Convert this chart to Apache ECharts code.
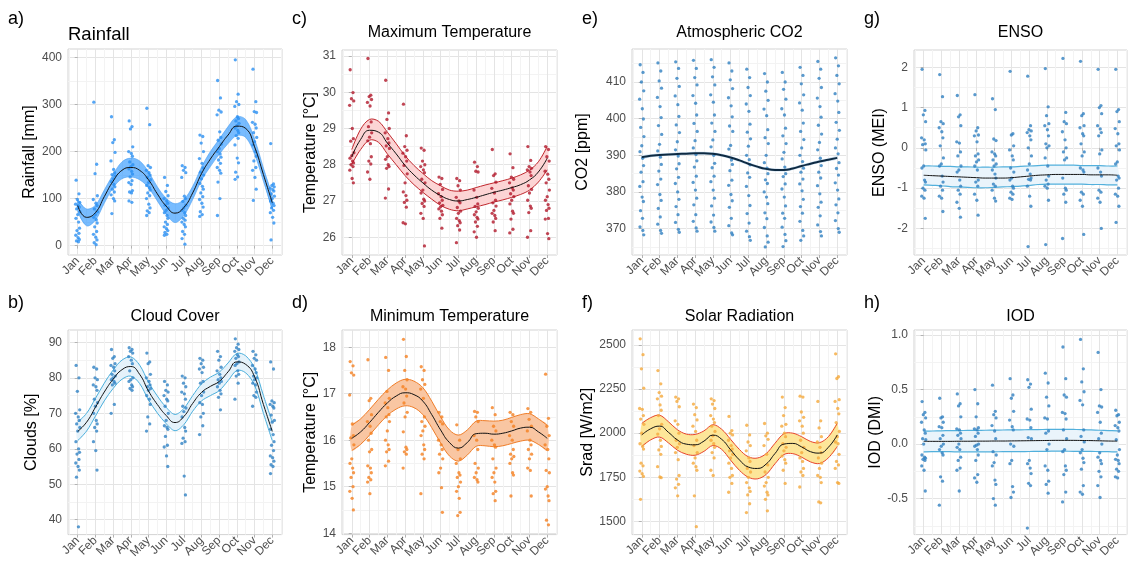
<!DOCTYPE html>
<html lang="en">
<head>
<meta charset="utf-8">
<title>Monthly climate</title>
<script src="https://cdn.jsdelivr.net/npm/echarts@6/dist/echarts.min.js"></script>
<style>
    html, body { margin: 0; padding: 0; background: #fff; }
    #main { width: 1128px; height: 561px; }
</style>
</head>
<body>
<div id="main"></div>
<script>
var months = ['Jan', 'Feb', 'Mar', 'Apr', 'May', 'Jun', 'Jul', 'Aug', 'Sep', 'Oct', 'Nov', 'Dec'];
var monthTicks = [0, 1, 2, 3, 4, 5, 6, 7, 8, 9, 10, 11];
var halfTicks = [-0.5, 0.5, 1.5, 2.5, 3.5, 4.5, 5.5, 6.5, 7.5, 8.5, 9.5, 10.5, 11.5];
// horizontal jitter of the points, in months
var jitter = [-0.09, 0.07, -0.02, 0.11, -0.12, 0.03, 0.09, -0.06, 0.12, 0.0, -0.1, 0.05, 0.1, -0.04, 0.07, -0.11, 0.02, 0.09, -0.07, 0.04, -0.1, 0.06, 0.11, -0.05, 0.01];
// smooth fit read every half month
var fitX = [0, 0.5, 1, 1.5, 2, 2.5, 3, 3.5, 4, 4.5, 5, 5.5, 6, 6.5, 7, 7.5, 8, 8.5, 9, 9.5, 10, 10.5, 11];

// a) Rainfall
var rainPts = [
    [139, 110, 98, 92, 88, 85, 82, 78, 72, 66, 58, 50, 37, 32, 26, 22, 17, 13, 10, 8],
    [305, 173, 153, 106, 98, 90, 85, 78, 72, 66, 60, 55, 48, 40, 30, 24, 18, 12, 6, 2],
    [274, 225, 219, 198, 180, 162, 155, 151, 148, 142, 136, 130, 125, 120, 114, 108, 100, 95, 68],
    [265, 253, 248, 210, 200, 196, 190, 178, 172, 168, 163, 158, 152, 146, 138, 134, 130, 117, 114, 112, 95, 92],
    [292, 257, 170, 166, 160, 155, 150, 145, 140, 134, 128, 123, 118, 112, 106, 100, 88, 80, 74, 70, 64],
    [145, 128, 115, 106, 100, 95, 90, 86, 80, 75, 70, 64, 58, 50, 45, 40, 36, 32, 28, 24, 22],
    [170, 166, 160, 155, 145, 105, 100, 94, 86, 80, 75, 70, 64, 58, 54, 50, 45, 40, 30, 24, 15, 3],
    [235, 232, 218, 200, 185, 175, 165, 156, 150, 142, 132, 126, 120, 112, 104, 98, 90, 82, 72, 66, 62],
    [351, 314, 288, 284, 278, 242, 230, 224, 216, 206, 200, 195, 188, 182, 175, 166, 160, 154, 135, 100, 64],
    [395, 322, 306, 300, 296, 274, 270, 265, 260, 255, 250, 245, 240, 234, 228, 214, 186, 176, 156, 146, 141],
    [375, 306, 285, 283, 262, 258, 250, 240, 230, 221, 214, 200, 190, 180, 166, 160, 145, 120, 96],
    [217, 131, 128, 125, 122, 119, 116, 110, 105, 100, 95, 90, 85, 80, 75, 70, 60, 48, 12]
];
var rainFit = [85, 60, 70, 104, 137, 160, 166, 160, 140, 110, 84, 69, 81, 112, 153, 184, 210, 235, 254, 249, 210, 151, 91];
var rainLo = [73, 42, 54, 90, 123, 142, 146, 140, 123, 95, 67, 49, 64, 98, 139, 168, 194, 217, 234, 230, 194, 137, 77];
var rainHi = [97, 78, 86, 118, 151, 178, 186, 180, 157, 125, 101, 89, 98, 126, 167, 200, 226, 253, 274, 268, 226, 165, 105];

// b) Cloud cover
var cloudPts = [
    [83.5, 80, 76.2, 71, 70, 69, 68, 67, 66, 65, 62, 60, 59, 58.5, 57, 56, 55, 54, 52, 38],
    [83, 82.5, 80, 79.5, 78, 77.5, 76.5, 74, 73, 72, 70, 68, 67, 66, 65, 62, 59.5, 54],
    [88, 86, 85.5, 84, 83.5, 83, 82, 81, 80.5, 80, 79.5, 79, 78.5, 78, 72.5, 70],
    [88.5, 88, 87.5, 87, 86, 85, 84, 82, 80, 79.5, 79, 78, 77.5, 77, 76.5],
    [87, 84.5, 84, 81, 80, 79, 78, 77.5, 77, 76.5, 75, 74, 72.5, 69, 67, 65],
    [79, 78, 76.5, 76, 75, 74, 73.5, 72, 70, 68, 66.5, 66, 65.5, 63.5, 61, 60.5, 58, 55],
    [80.5, 80, 78.5, 77.5, 76, 75.5, 74, 72, 71.5, 70.5, 69, 66, 65, 63, 62, 61.5, 52.3, 47],
    [85.5, 85, 84, 83, 82.5, 81.5, 79, 78.5, 76, 75, 73, 72.5, 70, 69, 66.5, 64],
    [87.5, 86, 85, 83, 82, 81, 80, 79.5, 79, 78.5, 77.5, 76.5, 75.5, 74.5, 71],
    [91, 89.5, 88.5, 88, 87.5, 86.5, 86, 85.5, 84.5, 84, 83.5, 82, 81, 80.5, 78.5, 74],
    [87.5, 86.5, 85.5, 85, 83.5, 82.5, 81.5, 80.5, 80, 79.5, 78.5, 78, 76, 75, 74.5, 72],
    [84.5, 82.5, 73.5, 73, 72.5, 72, 71.5, 69.5, 68, 67.5, 65.5, 64, 62, 61, 59.5, 58, 57.5, 56.5, 55.5, 55, 53]
];
var cloudFit = [64.9, 67.5, 71.7, 76.0, 79.6, 82.3, 83.2, 81.0, 76.3, 72.5, 69.4, 67.4, 69.1, 72.8, 75.9, 77.6, 79.0, 81.7, 84.5, 83.8, 80.3, 72.5, 64.9];
var cloudLo = [62.3, 65.0, 69.2, 73.5, 77.0, 79.6, 80.5, 78.4, 73.8, 70.1, 67.1, 65.1, 66.8, 70.6, 73.5, 75.0, 76.4, 79.2, 82.1, 81.4, 77.9, 70.0, 62.3];
var cloudHi = [67.5, 70.0, 74.2, 78.5, 82.2, 85.0, 85.9, 83.6, 78.8, 74.9, 71.7, 69.7, 71.4, 75.0, 78.3, 80.2, 81.6, 84.2, 86.9, 86.2, 82.7, 75.0, 67.5];

// c) Maximum temperature
var maxPts = [
    [30.62, 29.99, 29.82, 29.76, 29.64, 29.0, 28.72, 28.65, 28.33, 28.25, 28.18, 28.1, 28.05, 28.0, 27.95, 27.85, 27.62, 27.5],
    [30.93, 29.92, 29.88, 29.8, 29.72, 29.62, 29.18, 29.05, 28.88, 28.76, 28.66, 28.58, 28.22, 28.1, 28.02, 27.8, 27.6],
    [30.33, 29.43, 29.25, 29.0, 28.88, 28.72, 28.6, 28.52, 28.45, 28.22, 28.15, 28.0, 27.95, 27.9, 27.33, 27.08],
    [29.67, 28.8, 28.5, 28.4, 28.32, 28.22, 28.1, 27.98, 27.75, 27.5, 27.25, 27.15, 27.02, 26.96, 26.83, 26.4, 26.37],
    [28.46, 28.4, 28.1, 28.0, 27.95, 27.86, 27.78, 27.6, 27.5, 27.3, 27.22, 27.05, 27.0, 26.93, 26.85, 26.66, 26.52, 25.76],
    [27.66, 27.62, 27.46, 27.32, 27.2, 27.12, 27.02, 26.95, 26.88, 26.84, 26.78, 26.72, 26.62, 26.52, 26.25],
    [27.62, 27.56, 27.42, 27.3, 27.1, 27.0, 26.95, 26.82, 26.72, 26.66, 26.52, 26.46, 26.4, 26.32, 26.2, 25.85],
    [28.07, 27.95, 27.82, 27.8, 27.3, 27.1, 26.92, 26.85, 26.8, 26.7, 26.62, 26.55, 26.5, 26.42, 26.3, 26.15, 26.0],
    [28.42, 27.75, 27.7, 27.52, 27.35, 27.22, 27.02, 26.95, 26.86, 26.74, 26.66, 26.6, 26.52, 26.42, 26.18],
    [28.3, 27.92, 27.66, 27.6, 27.5, 27.36, 27.3, 27.2, 27.12, 27.02, 26.92, 26.72, 26.66, 26.5, 26.22, 26.12],
    [28.5, 28.12, 27.95, 27.9, 27.86, 27.8, 27.7, 27.42, 27.32, 27.22, 27.02, 26.86, 26.8, 26.68, 26.18, 26.0],
    [28.5, 28.42, 28.22, 28.1, 27.82, 27.74, 27.6, 27.5, 27.3, 27.12, 27.02, 26.9, 26.8, 26.74, 26.52, 26.5, 26.1, 25.96]
];
var maxFit = [28.22, 28.7, 28.95, 28.9, 28.6, 28.3, 27.98, 27.72, 27.5, 27.3, 27.15, 27.04, 27.0, 27.04, 27.1, 27.17, 27.24, 27.3, 27.37, 27.45, 27.58, 27.8, 28.18];
var maxLo = [28.02, 28.42, 28.68, 28.62, 28.3, 28.0, 27.7, 27.45, 27.24, 27.05, 26.88, 26.77, 26.73, 26.78, 26.84, 26.9, 26.97, 27.03, 27.1, 27.18, 27.3, 27.52, 27.86];
var maxHi = [28.42, 28.98, 29.25, 29.2, 28.9, 28.58, 28.25, 27.98, 27.76, 27.56, 27.42, 27.3, 27.27, 27.3, 27.37, 27.44, 27.5, 27.56, 27.63, 27.72, 27.85, 28.08, 28.5];

// d) Minimum temperature
var minPts = [
    [17.69, 17.6, 17.45, 17.4, 16.97, 16.35, 16.1, 16.05, 15.9, 15.6, 15.5, 15.4, 15.3, 15.2, 15.0, 14.9, 14.75, 14.5],
    [17.73, 16.9, 16.85, 16.55, 16.4, 16.3, 16.15, 16.0, 15.8, 15.75, 15.45, 15.4, 15.3, 15.2, 15.15, 15.1, 14.85],
    [17.78, 17.5, 17.05, 16.9, 16.8, 16.7, 16.55, 16.5, 16.4, 16.2, 16.0, 15.9, 15.8, 15.75, 15.55, 15.45],
    [18.17, 17.8, 17.5, 17.3, 17.15, 17.1, 16.95, 16.8, 16.6, 16.5, 16.18, 15.85, 15.8, 15.75, 15.7, 15.4],
    [17.58, 17.5, 17.3, 17.2, 17.1, 16.9, 16.5, 16.4, 16.3, 16.2, 16.1, 15.9, 15.8, 15.7, 15.6, 14.85],
    [16.6, 16.5, 16.4, 16.35, 16.0, 15.9, 15.8, 15.7, 15.6, 15.4, 15.3, 14.98, 14.45],
    [16.33, 16.0, 15.8, 15.6, 15.5, 15.3, 15.25, 15.2, 15.1, 15.0, 14.9, 14.75, 14.45, 14.38],
    [16.62, 16.6, 16.5, 16.4, 16.1, 16.0, 15.8, 15.5, 15.4, 15.3, 15.2, 15.15, 15.1],
    [16.7, 16.55, 16.3, 16.2, 16.0, 15.9, 15.85, 15.6, 15.4, 15.3, 15.2, 15.1, 14.9, 14.85, 14.7],
    [16.6, 16.55, 16.4, 16.3, 16.1, 16.0, 15.8, 15.7, 15.65, 15.6, 15.5, 15.3, 15.25, 14.8],
    [16.68, 16.6, 16.45, 16.3, 16.2, 16.0, 15.9, 15.8, 15.7, 15.6, 15.4, 15.35, 14.8],
    [17.42, 16.47, 16.3, 16.1, 15.9, 15.8, 15.6, 15.35, 15.3, 15.0, 14.95, 14.8, 14.7, 14.28, 14.18]
];
var minFit = [16.04, 16.18, 16.38, 16.6, 16.8, 16.95, 17.02, 16.98, 16.84, 16.55, 16.22, 15.95, 15.83, 15.95, 16.14, 16.15, 16.13, 16.15, 16.2, 16.26, 16.28, 16.18, 16.04];
var minLo = [15.78, 15.91, 16.11, 16.33, 16.53, 16.67, 16.74, 16.7, 16.55, 16.27, 15.94, 15.66, 15.55, 15.68, 15.87, 15.88, 15.86, 15.88, 15.93, 15.98, 16.0, 15.91, 15.78];
var minHi = [16.32, 16.46, 16.66, 16.88, 17.08, 17.23, 17.31, 17.27, 17.13, 16.84, 16.5, 16.22, 16.11, 16.22, 16.41, 16.42, 16.41, 16.43, 16.49, 16.55, 16.57, 16.46, 16.32];

// e) Atmospheric CO2
var co2Pts = [
    [414.7, 412.6, 410, 407.6, 405.3, 402.7, 399.9, 397.6, 395.1, 392.6, 391, 389.2, 387.2, 385.4, 382.8, 381.5, 378.6, 377.4, 374.9, 372.8, 370.5, 369.5, 368.3],
    [415.2, 413, 410.3, 408.3, 405.8, 403.3, 400.3, 398.1, 395.7, 393, 391.2, 389.5, 387.5, 385.7, 383.5, 382, 379.3, 377.7, 375.5, 373.2, 371.2, 369.5, 368.7],
    [415.5, 413.7, 411, 408.8, 406.2, 403.8, 400.6, 398.3, 396.2, 393.7, 391.5, 389.8, 387.7, 386.3, 384, 382.3, 380, 378, 376, 373.8, 371.7, 369.8, 369],
    [415.9, 413.7, 411.2, 409.2, 406.3, 404.2, 401, 398.7, 396.5, 394, 392, 390.2, 388.5, 386.8, 384.3, 382.6, 380.5, 378.3, 376.5, 373.8, 372, 370.2, 369.3],
    [416.1, 414, 411.4, 409.2, 406.5, 404.5, 401, 398.8, 396.5, 394.2, 392.3, 390, 387.8, 386.6, 384.3, 382.8, 380.5, 378.3, 376.2, 373.7, 371.8, 370.3, 369.3],
    [415.2, 413, 410.6, 408.2, 405.7, 403.5, 400.5, 398, 396.5, 392.7, 391.7, 388.7, 387.5, 385.8, 383.2, 381.8, 379.3, 377.6, 375.8, 372.8, 370.8, 368.8, 368.3],
    [413.5, 411.2, 408.5, 406.3, 404, 402, 398.5, 396.3, 394.5, 392.5, 390, 388.8, 387.4, 385.2, 384, 381.5, 379, 376.3, 374.1, 371.5, 369.3, 367.8, 366.8],
    [412.3, 410, 407.5, 405, 402.6, 400.8, 397, 394.8, 393.2, 390, 388, 386.5, 385, 383.3, 382.3, 380, 378.6, 376.8, 374.3, 372.7, 370.3, 368, 366.3, 365],
    [412.6, 410, 408, 405.3, 402.7, 401, 397.4, 395.3, 393.2, 390.8, 389, 386.8, 385, 384.2, 382.2, 380.8, 378.6, 376.2, 374.2, 372.8, 370.4, 368.4, 366.7, 365.1],
    [414, 411.8, 409.5, 406.5, 404.3, 402.3, 398.8, 396.5, 394.3, 392, 390, 388.3, 386.5, 385.4, 383.5, 382.2, 380.3, 378, 376, 374.2, 372, 369.5, 368, 366.8],
    [415.6, 413.5, 411, 408.5, 405.6, 403.3, 400.4, 398.2, 395.8, 393.5, 391.5, 389.2, 387.2, 385.4, 383.8, 381.7, 379.5, 377.2, 375.8, 373.5, 371, 369.2, 368],
    [416.6, 414.4, 411.8, 409.5, 406.8, 404.8, 401.7, 399, 396.8, 394.4, 392, 390.4, 388, 386.4, 384.6, 382.5, 380.5, 378.1, 376.5, 374.3, 372.2, 370, 369]
];
var co2Fit = [389.5, 389.9, 390.1, 390.25, 390.35, 390.45, 390.55, 390.55, 390.4, 390.0, 389.4, 388.6, 387.7, 386.9, 386.3, 386.0, 386.0, 386.4, 387.1, 387.7, 388.3, 388.8, 389.3];
var co2Lo = [389.1, 389.5, 389.7, 389.85, 389.95, 390.05, 390.15, 390.15, 390.0, 389.6, 389.0, 388.2, 387.3, 386.5, 385.9, 385.6, 385.6, 386.0, 386.7, 387.3, 387.9, 388.4, 388.9];
var co2Hi = [389.9, 390.3, 390.5, 390.65, 390.75, 390.85, 390.95, 390.95, 390.8, 390.4, 389.8, 389.0, 388.1, 387.3, 386.7, 386.4, 386.4, 386.8, 387.5, 388.1, 388.7, 389.2, 389.7];

// f) Solar radiation
var sradPts = [
    [2535, 2445, 2365, 2255, 2140, 2135, 2100, 2080, 2050, 2000, 1940, 1925, 1910, 1830, 1815, 1785, 1770, 1755, 1625],
    [2355, 2280, 2230, 2210, 2195, 2160, 2130, 2100, 2050, 2025, 1995, 1960, 1925, 1905, 1880, 1810, 1752, 1748],
    [2205, 2195, 2180, 2150, 2070, 2050, 2000, 1960, 1940, 1920, 1890, 1850, 1760, 1740, 1710, 1690, 1645],
    [2165, 2145, 2105, 2075, 2040, 2010, 1960, 1930, 1890, 1860, 1830, 1810, 1790, 1645, 1470],
    [2195, 2185, 2165, 2140, 2100, 2080, 2060, 2040, 2010, 1985, 1960, 1940, 1920, 1890, 1860, 1790, 1760],
    [2095, 2015, 2000, 1990, 1960, 1930, 1910, 1900, 1880, 1860, 1830, 1800, 1760, 1750, 1715, 1665],
    [2045, 1990, 1950, 1930, 1900, 1860, 1840, 1800, 1780, 1750, 1720, 1690, 1670, 1650, 1600, 1550],
    [2055, 2000, 1985, 1965, 1930, 1880, 1820, 1780, 1750, 1720, 1700, 1665, 1650, 1625, 1560],
    [2205, 2145, 2100, 2050, 2040, 2000, 1980, 1940, 1920, 1900, 1870, 1850, 1830, 1790, 1715],
    [2210, 2205, 2120, 2090, 2070, 2040, 2000, 1960, 1920, 1890, 1860, 1840, 1800, 1780, 1760, 1695],
    [2180, 2070, 2030, 1980, 1950, 1920, 1890, 1860, 1830, 1800, 1760, 1750, 1720, 1610, 1605],
    [2450, 2320, 2310, 2190, 2180, 2140, 2110, 2060, 2010, 1980, 1950, 1940, 1880, 1840, 1820, 1800, 1720, 1715]
];
var sradFit = [1990, 2025, 2040, 2005, 1962, 1938, 1934, 1955, 1989, 1965, 1906, 1848, 1808, 1800, 1825, 1885, 1938, 1942, 1922, 1895, 1887, 1920, 1990];
var sradLo = [1925, 1962, 1978, 1945, 1904, 1881, 1875, 1897, 1930, 1908, 1847, 1789, 1750, 1741, 1766, 1827, 1879, 1884, 1864, 1837, 1828, 1860, 1925];
var sradHi = [2055, 2088, 2102, 2065, 2020, 1995, 1993, 2013, 2048, 2022, 1965, 1907, 1866, 1859, 1884, 1943, 1997, 2000, 1980, 1953, 1946, 1980, 2055];

// g) ENSO
var ensoPts = [
    [1.95, 0.93, 0.82, 0.65, 0.25, 0.2, 0.1, 0.08, -0.05, -0.45, -0.5, -0.8, -0.85, -1.0, -1.05, -1.2, -1.25, -1.75],
    [1.82, 1.27, 0.65, 0.6, 0.5, 0.4, 0.25, 0.05, -0.25, -0.4, -0.45, -0.7, -0.85, -0.95, -1.05, -1.2, -1.25, -1.58],
    [1.3, 0.82, 0.77, 0.55, 0.15, 0.12, -0.1, -0.2, -0.45, -0.55, -0.6, -0.8, -0.95, -1.05, -1.15, -1.35, -1.5, -1.72],
    [1.32, 0.5, 0.42, 0.32, 0.3, 0.15, -0.15, -0.2, -0.3, -0.35, -0.45, -0.55, -0.8, -0.85, -0.95, -1.15, -1.3, -1.67],
    [1.22, 0.95, 0.22, 0.18, -0.1, -0.15, -0.2, -0.3, -0.4, -0.45, -0.55, -0.65, -0.75, -0.9, -0.95, -1.05, -1.25, -1.32],
    [1.9, 0.35, 0.32, 0.05, -0.05, -0.2, -0.3, -0.5, -0.6, -0.75, -0.8, -0.95, -1.0, -1.1, -1.15, -1.25, -1.28],
    [1.78, 0.55, 0.45, 0.42, 0.38, 0.3, 0.2, 0.0, -0.2, -0.4, -0.55, -0.65, -0.75, -0.78, -0.8, -0.95, -1.2, -1.45, -2.45],
    [1.97, 1.02, 0.8, 0.6, 0.55, 0.45, 0.3, 0.1, 0.05, 0.0, -0.25, -0.45, -0.7, -0.8, -0.9, -0.95, -1.0, -1.3, -2.4],
    [2.22, 0.88, 0.65, 0.6, 0.4, 0.2, 0.0, -0.1, -0.25, -0.3, -0.75, -1.0, -1.05, -1.15, -1.35, -2.25],
    [2.15, 0.85, 0.8, 0.55, 0.5, 0.35, 0.3, 0.1, -0.1, -0.2, -0.5, -0.55, -0.6, -1.1, -1.15, -1.3, -1.45, -2.15],
    [1.95, 1.05, 1.0, 0.85, 0.55, 0.47, 0.38, 0.3, -0.05, -0.15, -0.5, -0.6, -0.7, -1.05, -1.1, -1.25, -1.35, -2.0],
    [1.95, 0.95, 0.9, 0.65, 0.48, 0.35, 0.1, 0.05, -0.05, -0.35, -0.4, -0.7, -0.75, -0.8, -1.0, -1.15, -1.2, -1.45, -1.85]
];
var ensoFit = [-0.68, -0.69, -0.70, -0.71, -0.72, -0.73, -0.74, -0.75, -0.75, -0.75, -0.74, -0.72, -0.70, -0.68, -0.67, -0.66, -0.66, -0.66, -0.66, -0.67, -0.67, -0.67, -0.68];
var ensoLo = [-0.92, -0.93, -0.94, -0.96, -0.97, -0.98, -0.99, -0.99, -0.98, -0.97, -0.96, -0.95, -0.93, -0.91, -0.9, -0.9, -0.9, -0.9, -0.9, -0.91, -0.91, -0.92, -0.92];
var ensoHi = [-0.45, -0.45, -0.46, -0.46, -0.47, -0.47, -0.48, -0.48, -0.48, -0.47, -0.47, -0.46, -0.45, -0.44, -0.43, -0.43, -0.43, -0.43, -0.44, -0.44, -0.44, -0.45, -0.45];

// h) IOD
var iodPts = [
    [0.39, 0.29, 0.27, 0.24, 0.2, 0.13, 0.1, 0.05, 0.04, 0.0, -0.1, -0.12, -0.13, -0.14, -0.15, -0.2, -0.24, -0.43],
    [0.42, 0.25, 0.24, 0.2, 0.16, 0.15, 0.08, 0.05, 0.0, -0.02, -0.05, -0.08, -0.1, -0.3, -0.34, -0.56],
    [0.46, 0.37, 0.35, 0.25, 0.14, 0.13, 0.1, 0.08, 0.05, 0.0, -0.03, -0.05, -0.12, -0.15, -0.22, -0.24, -0.43],
    [0.5, 0.37, 0.25, 0.15, 0.14, 0.13, 0.1, 0.07, 0.0, -0.01, -0.02, -0.05, -0.1, -0.15, -0.28, -0.31, -0.35],
    [0.54, 0.3, 0.27, 0.24, 0.17, 0.12, 0.05, -0.07, -0.1, -0.17, -0.2, -0.33, -0.37, -0.5, -0.56],
    [0.6, 0.45, 0.42, 0.3, 0.22, 0.16, 0.13, 0.0, -0.02, -0.15, -0.18, -0.39, -0.44, -0.49],
    [0.59, 0.55, 0.52, 0.32, 0.23, 0.22, 0.15, 0.06, 0.05, -0.15, -0.18, -0.22, -0.27, -0.36, -0.38, -0.77],
    [0.65, 0.56, 0.43, 0.35, 0.24, 0.23, 0.12, 0.1, 0.0, -0.05, -0.2, -0.24, -0.34, -0.37, -0.45],
    [0.89, 0.6, 0.45, 0.43, 0.29, 0.28, 0.23, 0.13, 0.05, -0.05, -0.07, -0.2, -0.24, -0.28, -0.44, -0.53],
    [0.96, 0.69, 0.57, 0.48, 0.4, 0.36, 0.13, 0.07, 0.02, -0.05, -0.08, -0.13, -0.17, -0.23, -0.38, -0.44, -0.46],
    [0.84, 0.5, 0.35, 0.34, 0.29, 0.2, 0.1, 0.05, 0.0, -0.08, -0.12, -0.15, -0.18, -0.25, -0.3, -0.38, -0.49],
    [0.31, 0.27, 0.26, 0.2, 0.17, 0.15, 0.12, 0.04, -0.05, -0.1, -0.14, -0.15, -0.18, -0.23, -0.25, -0.3, -0.31]
];
var iodFit = [0.025, 0.025, 0.025, 0.025, 0.026, 0.026, 0.027, 0.027, 0.028, 0.028, 0.029, 0.03, 0.031, 0.032, 0.033, 0.034, 0.034, 0.034, 0.033, 0.032, 0.03, 0.028, 0.027];
var iodLo = [-0.072, -0.07, -0.07, -0.07, -0.072, -0.072, -0.072, -0.072, -0.071, -0.07, -0.07, -0.069, -0.068, -0.067, -0.066, -0.065, -0.065, -0.066, -0.066, -0.067, -0.069, -0.07, -0.072];
var iodHi = [0.118, 0.12, 0.122, 0.123, 0.124, 0.125, 0.126, 0.127, 0.128, 0.129, 0.13, 0.131, 0.132, 0.133, 0.134, 0.135, 0.135, 0.134, 0.133, 0.13, 0.127, 0.124, 0.121];

var panels = [
    {letter: 'a)', title: 'Rainfall', yName: 'Rainfall [mm]', pts: rainPts, fit: rainFit, lo: rainLo, hi: rainHi,
        left: 68, top: 49, width: 214, height: 206, min: -20, max: 418, gap: 28,
        major: [0, 100, 200, 300, 400], minor: [50, 150, 250, 350],
        dot: '#2a90f2', fill: 'rgba(30,144,255,0.6)', edge: '#4a9ef0', ew: 0.6, line: '#111', lw: 1},
    {letter: 'b)', title: 'Cloud Cover', yName: 'Clouds [%]', pts: cloudPts, fit: cloudFit, lo: cloudLo, hi: cloudHi,
        left: 68, top: 330, width: 214, height: 205, min: 35.8, max: 93.5, gap: 28,
        major: [40, 50, 60, 70, 80, 90], minor: [45, 55, 65, 75, 85],
        dot: '#2f82c4', fill: '#e5f2fa', edge: '#4aafdc', ew: 1, line: '#111', lw: 1},
    {letter: 'c)', title: 'Maximum Temperature', yName: 'Temperature [\u00b0C]', pts: maxPts, fit: maxFit, lo: maxLo, hi: maxHi,
        left: 342, top: 50, width: 215, height: 205, min: 25.51, max: 31.165, gap: 19,
        major: [26, 27, 28, 29, 30, 31], minor: [26.5, 27.5, 28.5, 29.5, 30.5],
        dot: '#b2182b', fill: '#fcd4d4', edge: '#c0272d', ew: 1, line: '#111', lw: 1},
    {letter: 'd)', title: 'Minimum Temperature', yName: 'Temperature [\u00b0C]', pts: minPts, fit: minFit, lo: minLo, hi: minHi,
        left: 342, top: 330, width: 215, height: 205, min: 13.97, max: 18.37, gap: 19,
        major: [14, 15, 16, 17, 18], minor: [14.5, 15.5, 16.5, 17.5],
        dot: '#f5801f', fill: '#f9c6a2', edge: '#f07d28', ew: 1, line: '#111', lw: 1},
    {letter: 'e)', title: 'Atmospheric CO2', yName: 'CO2 [ppm]', pts: co2Pts, fit: co2Fit, lo: co2Lo, hi: co2Hi,
        left: 632, top: 49, width: 215, height: 206, min: 362.8, max: 419, gap: 41,
        major: [370, 380, 390, 400, 410], minor: [365, 375, 385, 395, 405, 415],
        dot: '#2f7fc1', fill: '#c9def0', edge: '#c9def0', ew: 0, line: '#0e2a42', lw: 2},
    {letter: 'f)', title: 'Solar Radiation', yName: 'Srad [W/m2]', pts: sradPts, fit: sradFit, lo: sradLo, hi: sradHi,
        left: 632, top: 330, width: 215, height: 205, min: 1425, max: 2585, gap: 34,
        major: [1500, 1750, 2000, 2250, 2500], minor: [1625, 1875, 2125, 2375],
        dot: '#f5a93b', fill: '#fde699', edge: '#e8452c', ew: 1, line: '#111', lw: 1},
    {letter: 'g)', title: 'ENSO', yName: 'ENSO (MEI)', pts: ensoPts, fit: ensoFit, lo: ensoLo, hi: ensoHi,
        left: 914, top: 50, width: 213, height: 205, min: -2.66, max: 2.43, gap: 26,
        major: [-2, -1, 0, 1, 2], minor: [-2.5, -1.5, -0.5, 0.5, 1.5],
        dot: '#2f7fc1', fill: '#eaf4fb', edge: '#52b0dc', ew: 1.2, line: '#111', lw: 1},
    {letter: 'h)', title: 'IOD', yName: 'IOD (DMI)', pts: iodPts, fit: iodFit, lo: iodLo, hi: iodHi,
        left: 914, top: 330, width: 213, height: 205, min: -0.83, max: 1.046, gap: 27, fixed: 1,
        major: [-0.5, 0, 0.5, 1.0], minor: [-0.75, -0.25, 0.25, 0.75],
        dot: '#2f7fc1', fill: '#eaf4fb', edge: '#52b0dc', ew: 1.2, line: '#111', lw: 1}
];

var FONT = '"Liberation Sans", Arial, sans-serif';
var SMOOTH = 0.35;
var grids = [], xAxes = [], yAxes = [], series = [], texts = [];

// ribbon between lower and upper fit, drawn through the axes of the panel
function bandRenderer(p) {
    return function (params, api) {
        var up = [], dn = [];
        for (var i = 0; i < fitX.length; i++) {
            up.push(api.coord([fitX[i], p.hi[i]]));
            dn.push(api.coord([fitX[i], p.lo[i]]));
        }
        var ring = up.concat(dn.slice().reverse());
        var children = [{type: 'polygon', shape: {points: ring, smooth: SMOOTH}, style: {fill: p.fill}}];
        if (p.ew > 0) {
            children.push({type: 'polyline', shape: {points: up, smooth: SMOOTH},
                style: {stroke: p.edge, lineWidth: p.ew, fill: null}});
            children.push({type: 'polyline', shape: {points: dn, smooth: SMOOTH},
                style: {stroke: p.edge, lineWidth: p.ew, fill: null}});
        }
        return {type: 'group', children: children};
    };
}

panels.forEach(function (p, k) {
    grids.push({left: p.left, top: p.top, width: p.width, height: p.height,
        show: true, borderColor: '#d3d3d3', borderWidth: 1, backgroundColor: '#fff'});

    // month axis: major grid at months, minor grid between them
    xAxes.push({
        type: 'value', gridIndex: k, min: -0.55, max: 11.55,
        axisLine: {show: false},
        axisTick: {show: true, customValues: monthTicks, length: 3, lineStyle: {color: '#b3b3b3'}},
        axisLabel: {customValues: monthTicks, rotate: 45, margin: 4, color: '#4d4d4d', fontSize: 12, fontFamily: FONT,
            formatter: function (v) { return months[Math.round(v)]; }},
        splitLine: {show: true, lineStyle: {color: '#e4e4e4', width: 1}}
    });
    xAxes.push({
        type: 'value', gridIndex: k, min: -0.55, max: 11.55,
        axisLine: {show: false},
        axisTick: {show: false, customValues: halfTicks},
        axisLabel: {show: false},
        splitLine: {show: true, lineStyle: {color: '#f3f3f3', width: 1}}
    });

    yAxes.push({
        type: 'value', gridIndex: k, min: p.min, max: p.max,
        name: p.yName, nameLocation: 'middle', nameGap: p.gap,
        nameTextStyle: {fontSize: 16, color: '#000', fontFamily: FONT},
        axisLine: {show: false},
        axisTick: {show: true, customValues: p.major, length: 3, lineStyle: {color: '#b3b3b3'}},
        axisLabel: {customValues: p.major, margin: 6, color: '#4d4d4d', fontSize: 12, fontFamily: FONT,
            formatter: function (v) { return p.fixed ? v.toFixed(p.fixed) : String(v); }},
        splitLine: {show: true, lineStyle: {color: '#e4e4e4', width: 1}}
    });
    yAxes.push({
        type: 'value', gridIndex: k, min: p.min, max: p.max,
        axisLine: {show: false},
        axisTick: {show: false, customValues: p.minor},
        axisLabel: {show: false},
        splitLine: {show: true, lineStyle: {color: '#f3f3f3', width: 1}}
    });

    var xi = 2 * k, yi = 2 * k;
    var pts = [];
    p.pts.forEach(function (vals, m) {
        vals.forEach(function (v, i) {
            pts.push([m + jitter[i % jitter.length], v]);
        });
    });

    series.push({
        type: 'custom', xAxisIndex: xi, yAxisIndex: yi, coordinateSystem: 'cartesian2d',
        data: [[0, p.fit[0]]], renderItem: bandRenderer(p), silent: true, z: 2
    });
    series.push({
        type: 'scatter', xAxisIndex: xi, yAxisIndex: yi, data: pts,
        symbolSize: 3.3, silent: true, z: 4,
        itemStyle: {color: p.dot}
    });
    series.push({
        type: 'line', xAxisIndex: xi, yAxisIndex: yi,
        data: fitX.map(function (x, i) { return [x, p.fit[i]]; }),
        smooth: true, symbol: 'none', silent: true, z: 5,
        lineStyle: {color: p.line, width: p.lw}
    });

    // panel letter and title
    var row2 = p.top > 200;
    texts.push({type: 'text', left: p.left < 100 ? 8 : p.left - 50, top: row2 ? 294 : 10,
        style: {text: p.letter, font: '18px ' + FONT, fill: '#000'}});
    if (k === 0) {
        texts.push({type: 'text', left: p.left, top: 25,
            style: {text: p.title, font: '18.5px ' + FONT, fill: '#000'}});
    } else {
        texts.push({type: 'text', x: p.left + p.width / 2, y: row2 ? 317 : 33,
            style: {text: p.title, font: '16px ' + FONT, fill: '#000', textAlign: 'center', textVerticalAlign: 'middle'}});
    }
});

var chart = echarts.init(document.getElementById('main'));
chart.setOption({
    animation: false,
    textStyle: {fontFamily: FONT},
    grid: grids,
    xAxis: xAxes,
    yAxis: yAxes,
    graphic: texts,
    series: series
});
</script>
</body>
</html>
